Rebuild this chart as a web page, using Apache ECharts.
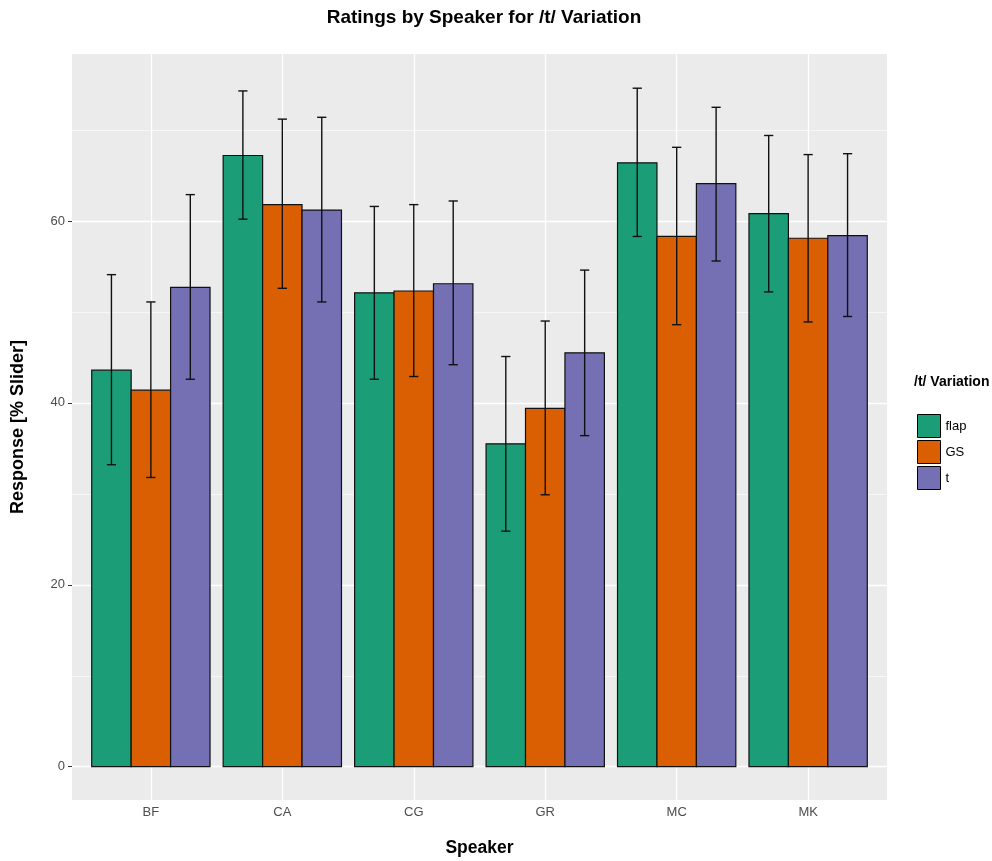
<!DOCTYPE html>
<html lang="en">
<head>
    <title>Ratings by Speaker</title>
    <meta charset="UTF-8">
    <style type="text/css">
        html, body { margin: 0; width: 100%; height: 100%; background: #fff; }
        #chart { width: 992px; height: 861px; }
    </style>
    <script type="text/javascript" src="https://cdn.jsdelivr.net/npm/echarts@6/dist/echarts.min.js"></script>
</head>
<body>
<div id="chart"></div>
<script type="text/javascript">
    var speakers = ['BF', 'CA', 'CG', 'GR', 'MC', 'MK'];
    var variations = ['flap', 'GS', 't'];
    var colors = ['#1B9E77', '#D95F02', '#7570B3'];

    // mean ratings per variation, one value per speaker
    var flapMean = [43.6, 67.2, 52.1, 35.5, 66.4, 60.8];
    var gsMean   = [41.4, 61.8, 52.3, 39.4, 58.3, 58.1];
    var tMean    = [52.7, 61.2, 53.1, 45.5, 64.1, 58.4];

    // error bar bounds
    var flapLow  = [33.2, 60.2, 42.6, 25.9, 58.3, 52.2];
    var flapHigh = [54.1, 74.3, 61.6, 45.1, 74.6, 69.4];
    var gsLow    = [31.8, 52.6, 42.9, 29.9, 48.6, 48.9];
    var gsHigh   = [51.1, 71.2, 61.8, 49.0, 68.1, 67.3];
    var tLow     = [42.6, 51.1, 44.2, 36.4, 55.6, 49.5];
    var tHigh    = [62.9, 71.4, 62.2, 54.6, 72.5, 67.4];

    var yTicks = [0, 20, 40, 60];
    var yMinor = [10, 30, 50, 70];
    var xTicks = [1, 2, 3, 4, 5, 6];

    var means = [flapMean, gsMean, tMean];
    var lows = [flapLow, gsLow, tLow];
    var highs = [flapHigh, gsHigh, tHigh];

    var dodge = 0.3;

    function barSeries(j) {
        var data = means[j].map(function (v, i) { return [i + 1, v]; });
        return {
            name: variations[j],
            type: 'custom',
            z: 3,
            itemStyle: { color: colors[j], borderColor: '#000', borderWidth: 1 },
            renderItem: function (params, api) {
                var x = api.value(0) + (j - 1) * dodge;
                var p1 = api.coord([x - dodge / 2, api.value(1)]);
                var p2 = api.coord([x + dodge / 2, 0]);
                return {
                    type: 'rect',
                    shape: { x: p1[0], y: p1[1], width: p2[0] - p1[0], height: p2[1] - p1[1] },
                    style: { fill: colors[j], stroke: '#111', lineWidth: 1.2 }
                };
            },
            data: data
        };
    }

    function errSeries(j) {
        var data = lows[j].map(function (v, i) { return [i + 1, v, highs[j][i]]; });
        return {
            name: variations[j] + '_err',
            type: 'custom',
            z: 4,
            silent: true,
            renderItem: function (params, api) {
                var x = api.value(0) + (j - 1) * dodge;
                var lo = api.coord([x, api.value(1)]);
                var hi = api.coord([x, api.value(2)]);
                var capL = api.coord([x - 0.035, 0])[0];
                var capR = api.coord([x + 0.035, 0])[0];
                var st = { stroke: '#111', lineWidth: 1.4 };
                return {
                    type: 'group',
                    children: [
                        { type: 'line', shape: { x1: lo[0], y1: lo[1], x2: hi[0], y2: hi[1] }, style: st },
                        { type: 'line', shape: { x1: capL, y1: lo[1], x2: capR, y2: lo[1] }, style: st },
                        { type: 'line', shape: { x1: capL, y1: hi[1], x2: capR, y2: hi[1] }, style: st }
                    ]
                };
            },
            data: data
        };
    }

    var gridSeries = {
        type: 'line',
        data: [],
        silent: true,
        z: 1,
        markLine: {
            silent: true,
            z: 1,
            symbol: 'none',
            label: { show: false },
            animation: false,
            data: yMinor.map(function (v) { return { yAxis: v, lineStyle: { color: '#fff', width: 0.6, type: 'solid' } }; })
                .concat(yTicks.map(function (v) { return { yAxis: v, lineStyle: { color: '#fff', width: 1.3, type: 'solid' } }; }))
                .concat(xTicks.map(function (v) { return { xAxis: v, lineStyle: { color: '#fff', width: 1.3, type: 'solid' } }; }))
        }
    };

    var series = [gridSeries];
    for (var j = 0; j < 3; j++) series.push(barSeries(j));
    for (var k = 0; k < 3; k++) series.push(errSeries(k));

    var option = {
        animation: false,
        title: [
            {
                text: 'Ratings by Speaker for /t/ Variation',
                left: 479, top: 3, textAlign: 'center',
                textStyle: { fontFamily: 'Liberation Sans', fontSize: 19, fontWeight: 'bold', color: '#000' }
            },
            {
                text: '/t/ Variation',
                left: 909, top: 370,
                textStyle: { fontFamily: 'Liberation Sans', fontSize: 14, fontWeight: 'bold', color: '#000' }
            }
        ],
        legend: {
            data: variations.map(function (v, i) {
                return { name: v, icon: 'rect', itemStyle: { color: colors[i], borderColor: '#000', borderWidth: 1 } };
            }),
            orient: 'vertical',
            left: 912, top: 409,
            itemWidth: 23, itemHeight: 23, itemGap: 2,
            textStyle: { fontFamily: 'Liberation Sans', fontSize: 13, color: '#000' }
        },
        grid: {
            left: 72, right: 105, top: 54, bottom: 61,
            outerBoundsMode: 'none',
            show: true, backgroundColor: '#EBEBEB', borderWidth: 0
        },
        xAxis: {
            type: 'value', min: 0.4, max: 6.6,
            name: 'Speaker', nameLocation: 'middle', nameGap: 39,
            nameTextStyle: { fontFamily: 'Liberation Sans', fontSize: 17.5, fontWeight: 'bold', color: '#000' },
            axisLine: { show: false },
            splitLine: { show: false },
            axisTick: { show: true, customValues: xTicks, length: 4, lineStyle: { color: '#333' } },
            axisLabel: {
                customValues: xTicks, margin: 6,
                fontFamily: 'Liberation Sans', fontSize: 13, color: '#4D4D4D',
                formatter: function (v) { return speakers[Math.round(v) - 1]; }
            }
        },
        yAxis: {
            type: 'value', min: -3.66, max: 78.36,
            name: 'Response [% Slider]', nameLocation: 'middle', nameGap: 45,
            nameTextStyle: { fontFamily: 'Liberation Sans', fontSize: 18, fontWeight: 'bold', color: '#000' },
            axisLine: { show: false },
            splitLine: { show: false },
            axisTick: { show: true, customValues: yTicks, length: 4, lineStyle: { color: '#333' } },
            axisLabel: {
                customValues: yTicks, margin: 7,
                fontFamily: 'Liberation Sans', fontSize: 13, color: '#4D4D4D'
            }
        },
        series: series
    };

    var chart = echarts.init(document.getElementById('chart'));
    chart.setOption(option);
</script>
</body>
</html>
